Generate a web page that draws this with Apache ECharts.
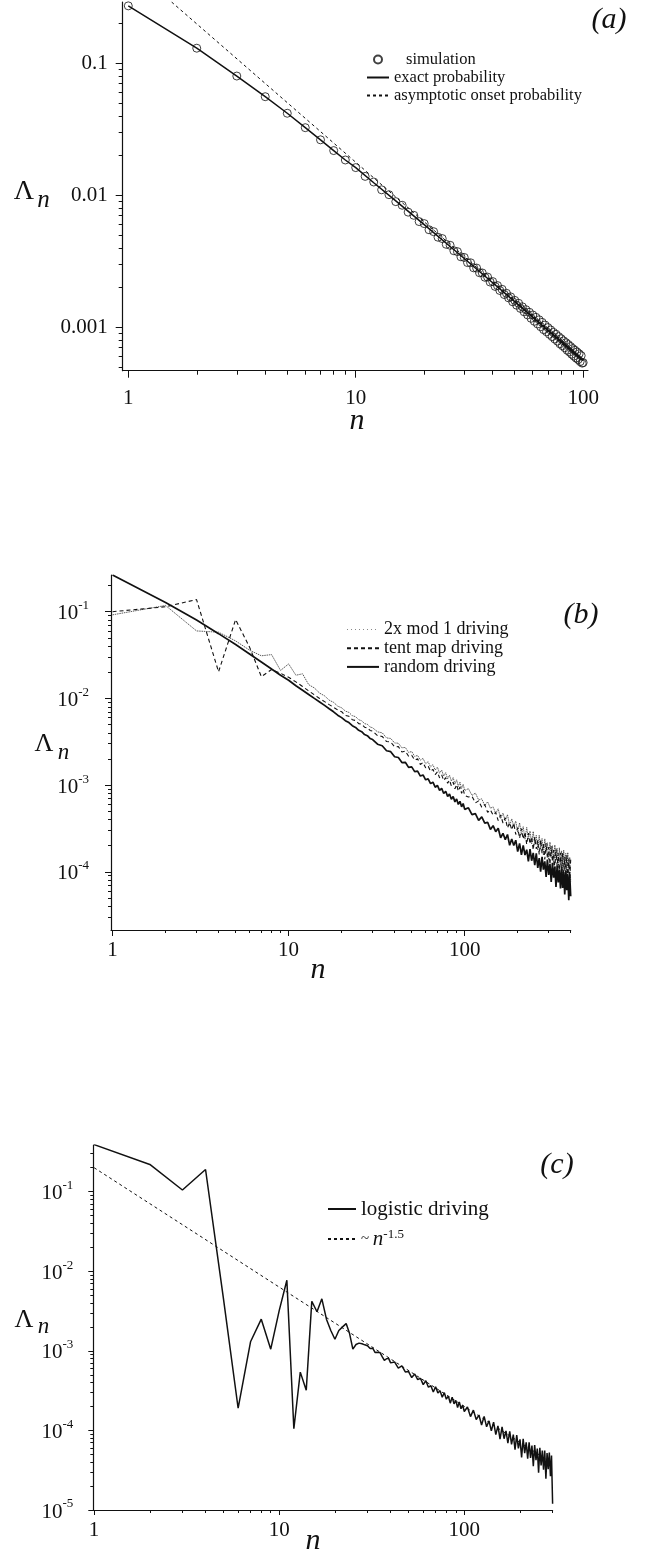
<!DOCTYPE html>
<html>
<head>
<meta charset="utf-8">
<script src="https://cdn.jsdelivr.net/npm/echarts@6/dist/echarts.min.js"></script>
<style>
  html, body { margin: 0; padding: 0; background: #fff; }
  #chart { width: 645px; height: 1554px; }
</style>
</head>
<body>
<div id="chart"></div>
<script>
// ---- panel (a) ----
const aSimValues = [
  0.272, 0.130, 0.080, 0.0558, 0.0418, 0.0325, 0.0263, 0.0218, 0.0185, 0.0162,
  0.0139, 0.0126, 0.0110, 0.0101, 0.00895, 0.00840, 0.00745, 0.00705, 0.00632, 0.00610,
  0.00548, 0.00530, 0.00481, 0.00470, 0.00425, 0.00418, 0.00380, 0.00374, 0.00342, 0.00338,
  0.00309, 0.00308, 0.00282, 0.00281, 0.00259, 0.00258, 0.00239, 0.00240, 0.00220, 0.00222,
  0.00204, 0.00207, 0.00190, 0.00194, 0.00177, 0.00181, 0.00167, 0.00170, 0.00156, 0.00160,
  0.00147, 0.00152, 0.00139, 0.00143, 0.00131, 0.00136, 0.00124, 0.00130, 0.00117, 0.00124,
  0.00111, 0.00119, 0.00106, 0.00114, 0.00101, 0.00109, 0.000960, 0.00104, 0.000925, 0.000995,
  0.000885, 0.000955, 0.000850, 0.000915, 0.000815, 0.000885, 0.000785, 0.000850, 0.000750, 0.000820,
  0.000725, 0.000790, 0.000700, 0.000765, 0.000670, 0.000740, 0.000650, 0.000715, 0.000625, 0.000690,
  0.000605, 0.000670, 0.000585, 0.000650, 0.000570, 0.000630, 0.000550, 0.000610, 0.000535, 0.000540
]
const aExactN = [1, 2, 3, 4, 5, 6, 7, 8, 9, 10, 12, 15, 20, 25, 30, 40, 50, 60, 70, 80, 90, 100]
const aExactValues = [0.272, 0.130, 0.080, 0.0558, 0.0418, 0.0325, 0.0263, 0.0218, 0.0185, 0.0162,
  0.01244, 0.00906, 0.00599, 0.00433, 0.00332, 0.002174, 0.001563, 0.001193, 0.000947, 0.000778, 0.000654, 0.000558]
const aAsymN = [1.55, 100]
const aAsymValues = [0.291, 0.000564]
const aXMajor = [1, 10, 100]
const aXMinor = [2, 3, 4, 5, 6, 7, 8, 9, 20, 30, 40, 50, 60, 70, 80, 90]
const aYMajor = [0.001, 0.01, 0.1]
const aYMinor = [0.0005, 0.0006, 0.0007, 0.0008, 0.0009, 0.002, 0.003, 0.004, 0.005, 0.006, 0.007, 0.008, 0.009,
  0.02, 0.03, 0.04, 0.05, 0.06, 0.07, 0.08, 0.09, 0.2]

// ---- panel (b) ----
const bN = [
  1, 2, 3, 4, 5, 6, 7, 8, 9, 10, 11, 12, 13, 14, 15, 16, 17, 18, 19, 20,
  21, 22, 23, 24, 25, 26, 27, 28, 29, 30,
  32, 34, 36, 38, 40, 42, 44, 46, 48, 50, 52, 54, 56, 58, 60, 62, 64, 66, 68, 70,
  72, 74, 76, 78, 80, 82, 84, 86, 88, 90, 92, 94, 96, 98, 100,
  105, 110, 115, 120, 125, 130, 135, 140, 145, 150, 155, 160, 165, 170, 175, 180, 185, 190, 195, 200,
  205, 210, 215, 220, 225, 230, 235, 240, 245, 250, 255, 260, 265, 270, 275, 280, 285, 290, 295, 300,
  305, 310, 315, 320, 325, 330, 335, 340, 345, 350, 355, 360, 365, 370, 375, 380, 385, 390, 395, 400
]
const bDyadic = [
  0.092, 0.118, 0.060, 0.058, 0.046, 0.036, 0.031, 0.032, 0.021, 0.025,
  0.0185, 0.0192, 0.0144, 0.0132, 0.0115, 0.0107, 0.00954, 0.00900, 0.00813, 0.00779,
  0.00714, 0.00689, 0.00631, 0.00616, 0.00567, 0.00552, 0.00511, 0.00503, 0.00468, 0.00458,
  0.00411, 0.00401, 0.00350, 0.00345, 0.00306, 0.00304, 0.00269, 0.00272, 0.00238, 0.00244,
  0.00214, 0.00220, 0.00194, 0.00203, 0.00176, 0.00186, 0.00162, 0.00172, 0.00149, 0.00161,
  0.00137, 0.00149, 0.00127, 0.00139, 0.00118, 0.00130, 0.00111, 0.00122, 0.00103, 0.00115,
  0.000965, 0.00108, 0.000913, 0.00102, 0.000866,
  9.10e-4, 7.60e-4, 8.09e-4, 6.74e-4, 6.94e-4, 5.80e-4, 6.42e-4, 5.40e-4, 5.61e-4, 4.72e-4,
  5.32e-4, 4.10e-4, 4.75e-4, 3.86e-4, 4.56e-4, 3.40e-4, 4.08e-4, 3.35e-4, 3.84e-4, 2.86e-4,
  3.68e-4, 2.69e-4, 3.31e-4, 2.37e-4, 3.25e-4, 2.40e-4, 2.95e-4, 2.10e-4, 2.92e-4, 2.07e-4,
  2.63e-4, 1.77e-4, 2.64e-4, 1.81e-4, 2.42e-4, 1.55e-4, 2.40e-4, 1.66e-4, 2.16e-4, 1.37e-4,
  2.20e-4, 1.46e-4, 2.00e-4, 1.19e-4, 2.04e-4, 1.34e-4, 1.86e-4, 1.07e-4, 1.89e-4, 1.20e-4,
  1.74e-4, 9.56e-5, 1.78e-4, 1.07e-4, 1.63e-4, 8.56e-5, 1.67e-4, 9.69e-5, 1.47e-4, 7.70e-5
]
const bTent = [
  0.100, 0.114, 0.138, 0.0203, 0.081, 0.039, 0.0178, 0.0215, 0.0195, 0.0175,
  0.0155, 0.0137, 0.0122, 0.0110, 0.00997, 0.00917, 0.00848, 0.00789, 0.00735, 0.00702,
  0.00636, 0.00622, 0.00568, 0.00556, 0.00512, 0.00503, 0.00465, 0.00458, 0.00427, 0.00420,
  0.00372, 0.00364, 0.00318, 0.00314, 0.00276, 0.00278, 0.00241, 0.00247, 0.00215, 0.00221,
  0.00194, 0.00201, 0.00173, 0.00182, 0.00158, 0.00166, 0.00144, 0.00152, 0.00132, 0.00142,
  0.00121, 0.00131, 0.00113, 0.00122, 0.00105, 0.00114, 0.000980, 0.00108, 0.000905, 0.00101,
  0.000854, 0.000951, 0.000802, 0.000895, 0.000760,
  7.28e-4, 7.42e-4, 6.22e-4, 6.58e-4, 5.54e-4, 5.95e-4, 4.84e-4, 5.17e-4, 4.49e-4, 4.84e-4,
  3.89e-4, 4.52e-4, 3.65e-4, 4.20e-4, 3.20e-4, 3.69e-4, 3.05e-4, 3.63e-4, 2.69e-4, 3.23e-4,
  2.44e-4, 3.14e-4, 2.38e-4, 2.86e-4, 2.07e-4, 2.79e-4, 2.10e-4, 2.53e-4, 1.79e-4, 2.52e-4,
  1.83e-4, 2.30e-4, 1.58e-4, 2.33e-4, 1.63e-4, 2.10e-4, 1.39e-4, 2.14e-4, 1.43e-4, 1.93e-4,
  1.21e-4, 1.98e-4, 1.31e-4, 1.78e-4, 1.07e-4, 1.84e-4, 1.16e-4, 1.65e-4, 9.54e-5, 1.66e-4,
  1.02e-4, 1.64e-4, 8.53e-5, 1.49e-4, 9.59e-5, 1.55e-4, 7.65e-5, 1.41e-4, 8.44e-5, 1.38e-4
]
const bRandom = [
  0.265, 0.128, 0.080, 0.0558, 0.0418, 0.0325, 0.0263, 0.0218, 0.0185, 0.0162,
  0.0140, 0.0124, 0.0111, 0.0100, 0.0091, 0.0083, 0.0076, 0.0070, 0.0064, 0.0060,
  0.00553, 0.00526, 0.00485, 0.00463, 0.00428, 0.00413, 0.00383, 0.00371, 0.00345, 0.00335,
  0.00296, 0.00284, 0.00249, 0.00243, 0.00212, 0.00208, 0.00182, 0.00183, 0.00160, 0.00162,
  0.00143, 0.00145, 0.00127, 0.00131, 0.00115, 0.00118, 0.00104, 0.00108, 0.000945, 0.000990,
  0.000868, 0.000915, 0.000800, 0.000848, 0.000740, 0.000790, 0.000686, 0.000738, 0.000640, 0.000692,
  0.000598, 0.000650, 0.000562, 0.000612, 0.000525,
  5.47e-4, 4.57e-4, 4.68e-4, 3.92e-4, 4.29e-4, 3.64e-4, 3.72e-4, 3.08e-4, 3.40e-4, 2.90e-4,
  3.17e-4, 2.47e-4, 2.78e-4, 2.35e-4, 2.69e-4, 2.02e-4, 2.39e-4, 2.01e-4, 2.31e-4, 1.71e-4,
  2.12e-4, 1.57e-4, 2.02e-4, 1.56e-4, 1.80e-4, 1.32e-4, 1.82e-4, 1.34e-4, 1.65e-4, 1.19e-4,
  1.63e-4, 1.11e-4, 1.44e-4, 1.00e-4, 1.49e-4, 1.06e-4, 1.32e-4, 8.74e-5, 1.38e-4, 9.20e-5,
  1.23e-4, 7.65e-5, 1.27e-4, 8.54e-5, 1.14e-4, 6.67e-5, 1.18e-4, 7.52e-5, 1.06e-4, 6.44e-5,
  1.10e-4, 6.50e-5, 9.95e-5, 5.46e-5, 1.03e-4, 6.14e-5, 9.41e-5, 4.69e-5, 9.19e-5, 5.21e-5
]
const bXMajor = [1, 10, 100]
const bXMinor = [2, 3, 4, 5, 6, 7, 8, 9, 20, 30, 40, 50, 60, 70, 80, 90, 200, 300, 400]
const bYMajor = [0.0001, 0.001, 0.01, 0.1]
const bYMinor = [3e-5, 4e-5, 5e-5, 6e-5, 7e-5, 8e-5, 9e-5,
  2e-4, 3e-4, 4e-4, 5e-4, 6e-4, 7e-4, 8e-4, 9e-4,
  0.002, 0.003, 0.004, 0.005, 0.006, 0.007, 0.008, 0.009,
  0.02, 0.03, 0.04, 0.05, 0.06, 0.07, 0.08, 0.09, 0.2]

// ---- panel (c) ----
const cN = [
  1, 2, 3, 4, 5, 6, 7, 8, 9, 10, 11, 12, 13, 14, 15, 16, 17, 18, 19, 20,
  21, 22, 23, 24, 25, 26, 27, 28, 29, 30, 31, 32, 33, 34, 35, 36, 37, 38, 39, 40,
  42, 44, 46, 48, 50, 52, 54, 56, 58, 60, 62, 64, 66, 68, 70, 72, 74, 76, 78, 80,
  82, 84, 86, 88, 90, 92, 94, 96, 98, 100,
  104, 108, 112, 116, 120, 124, 128, 132, 136, 140, 144, 148, 152, 156, 160, 164, 168, 172, 176, 180,
  184, 188, 192, 196, 200, 204, 208, 212, 216, 220, 224, 228, 232, 236, 240, 244, 248, 252, 256, 260,
  264, 268, 272, 276, 280, 284, 288, 292, 296, 300
]
const cLogistic = [
  0.39, 0.22, 0.105, 0.19, 0.0045, 0.00019, 0.0013, 0.0025, 0.00105, 0.0032,
  0.0077, 0.000105, 0.00054, 0.00032, 0.0042, 0.0031, 0.0045, 0.0025, 0.0018, 0.0014,
  0.0018, 0.0020, 0.0022, 0.00165, 0.00105, 0.0012, 1.25e-3, 1.23e-3, 1.19e-3, 1.16e-3,
  1.07e-3, 1.08e-3, 9.51e-4, 9.58e-4, 9.54e-4, 8.45e-4, 7.59e-4, 7.95e-4, 8.04e-4, 7.06e-4,
  7.25e-4, 6.06e-4, 6.47e-4, 5.43e-4, 5.49e-4, 4.62e-4, 5.12e-4, 4.36e-4, 4.51e-4, 3.76e-4,
  4.21e-4, 3.49e-4, 3.64e-4, 3.04e-4, 3.54e-4, 2.96e-4, 3.16e-4, 2.61e-4, 2.98e-4, 2.47e-4,
  2.70e-4, 2.20e-4, 2.62e-4, 2.16e-4, 2.38e-4, 1.94e-4, 2.28e-4, 1.87e-4, 2.08e-4, 1.73e-4,
  1.97e-4, 1.49e-4, 1.80e-4, 1.37e-4, 1.56e-4, 1.17e-4, 1.50e-4, 1.11e-4, 1.32e-4, 9.87e-5,
  1.27e-4, 8.86e-5, 1.14e-4, 7.80e-5, 1.11e-4, 7.87e-5, 9.85e-5, 6.90e-5, 9.76e-5, 6.69e-5,
  8.84e-5, 5.75e-5, 8.71e-5, 5.95e-5, 7.74e-5, 4.56e-5, 7.85e-5, 5.17e-5, 7.07e-5, 4.42e-5,
  7.08e-5, 4.52e-5, 6.46e-5, 3.56e-5, 6.54e-5, 4.23e-5, 5.93e-5, 2.95e-5, 6.03e-5, 3.63e-5,
  5.58e-5, 3.20e-5, 5.60e-5, 2.48e-5, 5.18e-5, 3.26e-5, 5.27e-5, 2.66e-5, 4.84e-5, 1.2e-5
]
const cPowN = [1, 300]
const cPowValues = [0.2, 3.85e-5]
const cXMajor = [1, 10, 100]
const cXMinor = [2, 3, 4, 5, 6, 7, 8, 9, 20, 30, 40, 50, 60, 70, 80, 90, 200, 300]
const cYMajor = [1e-5, 1e-4, 0.001, 0.01, 0.1]
const cYMinor = [2e-5, 3e-5, 4e-5, 5e-5, 6e-5, 7e-5, 8e-5, 9e-5,
  2e-4, 3e-4, 4e-4, 5e-4, 6e-4, 7e-4, 8e-4, 9e-4,
  0.002, 0.003, 0.004, 0.005, 0.006, 0.007, 0.008, 0.009,
  0.02, 0.03, 0.04, 0.05, 0.06, 0.07, 0.08, 0.09, 0.2, 0.3]

const FONT = "'Liberation Serif', 'Times New Roman', serif"
const INK = '#111'

const pairs = (ns, vs) => vs.map((v, i) => [ns[i], v])
const decimalLabel = v => v.toFixed(Math.max(0, -Math.round(Math.log10(v))))
const powerLabel = v => '{b|10}{s|' + Math.round(Math.log10(v)) + '}'
const powerRich = {
  b: { fontSize: 21, fontFamily: FONT, color: INK, lineHeight: 25, verticalAlign: 'bottom' },
  s: { fontSize: 13, fontFamily: FONT, color: INK, verticalAlign: 'top' }
}
// legend entries drawn as a bare line sample (no marker in the middle)
const lineEntry = (name, extra) => Object.assign({ name, itemStyle: { opacity: 0 } }, extra)

// main axis (major ticks + labels) and an overlapping one that only carries the minor ticks
function logAxes(dim, gridIndex, min, max, majors, minors, label, majorLen, minorLen) {
  const position = dim === 'x' ? 'bottom' : 'left'
  return [{
    type: 'log', gridIndex, min, max, position,
    axisLine: { show: true, onZero: false, lineStyle: { color: INK, width: 1.2 } },
    axisTick: { show: true, customValues: majors, length: majorLen, lineStyle: { color: INK, width: 1 } },
    axisLabel: Object.assign({ customValues: majors, color: INK, fontFamily: FONT, fontSize: 21 }, label),
    splitLine: { show: false },
    minorTick: { show: false }
  }, {
    type: 'log', gridIndex, min, max, position,
    axisLine: { show: false },
    axisTick: { show: true, customValues: minors, length: minorLen, lineStyle: { color: INK, width: 1 } },
    axisLabel: { show: false },
    splitLine: { show: false }
  }]
}

const text = (x, y, str, font) => ({
  type: 'text', x, y, silent: true,
  style: { text: str, font, fill: INK, align: 'center', verticalAlign: 'middle', textAlign: 'center', textVerticalAlign: 'middle' }
})

const chart = echarts.init(document.getElementById('chart'))

const option = {
  animation: false,
  backgroundColor: '#fff',
  grid: [
    { left: 122.7, top: 2, width: 465.3, height: 368.7, outerBoundsMode: 'none' },
    { left: 111, top: 575, width: 459.7, height: 355, outerBoundsMode: 'none' },
    { left: 93.3, top: 1145, width: 459.3, height: 365, outerBoundsMode: 'none' }
  ],
  xAxis: [
    ...logAxes('x', 0, 0.945, 105, aXMajor, aXMinor, { formatter: decimalLabel, margin: 17 }, 7, 4),
    ...logAxes('x', 1, 0.98, 400, bXMajor, bXMinor, { formatter: decimalLabel, margin: 10 }, 6, 3),
    ...logAxes('x', 2, 0.99, 300, cXMajor, cXMinor, { formatter: decimalLabel, margin: 10 }, 5, 3)
  ],
  yAxis: [
    ...logAxes('y', 0, 4.69e-4, 0.291, aYMajor, aYMinor, { formatter: decimalLabel, margin: 15 }, 7, 4),
    ...logAxes('y', 1, 2.13e-5, 0.265, bYMajor, bYMinor, { formatter: powerLabel, rich: powerRich, margin: 22 }, 6, 3),
    ...logAxes('y', 2, 1e-5, 0.386, cYMajor, cYMinor, { formatter: powerLabel, rich: powerRich, margin: 20 }, 5, 3)
  ],
  legend: [{
    left: 361, top: 46, orient: 'vertical', itemWidth: 22, itemHeight: 8, itemGap: 1,
    textStyle: { fontFamily: FONT, fontSize: 16.5, color: INK },
    data: [
      { name: 'simulation', textStyle: { padding: [0, 0, 0, 12] } },
      lineEntry('exact probability'),
      lineEntry('asymptotic onset probability')
    ]
  }, {
    left: 341, top: 615.5, orient: 'vertical', itemWidth: 32, itemHeight: 8, itemGap: 0.7,
    textStyle: { fontFamily: FONT, fontSize: 18, color: INK },
    data: [
      lineEntry('2x mod 1 driving', { lineStyle: { color: '#888', width: 1, type: [1, 3] } }),
      lineEntry('tent map driving'),
      lineEntry('random driving')
    ]
  }, {
    left: 322, top: 1193.5, orient: 'vertical', itemWidth: 28, itemHeight: 8, itemGap: 9,
    textStyle: {
      fontFamily: FONT, fontSize: 21, color: INK,
      rich: {
        t: { fontFamily: FONT, fontSize: 15, color: INK },
        i: { fontFamily: FONT, fontSize: 21, fontStyle: 'italic', color: INK },
        s: { fontFamily: FONT, fontSize: 13, color: INK, verticalAlign: 'top' }
      }
    },
    formatter: name => name === 'logistic driving' ? name : '{t|~ }{i|n}{s|-1.5}',
    data: [lineEntry('logistic driving'), lineEntry('~ n-1.5')]
  }],
  graphic: [
    text(609, 20, '(a)', 'italic 30px ' + FONT),
    text(581, 615, '(b)', 'italic 30px ' + FONT),
    text(557, 1165, '(c)', 'italic 30px ' + FONT),
    text(24, 191.5, 'Λ', '28px ' + FONT),
    text(43.5, 200, 'n', 'italic 25px ' + FONT),
    text(44, 744.5, 'Λ', '26px ' + FONT),
    text(63.5, 752.5, 'n', 'italic 23px ' + FONT),
    text(24, 1320, 'Λ', '26px ' + FONT),
    text(43.5, 1327, 'n', 'italic 23px ' + FONT),
    text(357, 421, 'n', 'italic 30px ' + FONT),
    text(318, 970, 'n', 'italic 30px ' + FONT),
    text(313, 1541, 'n', 'italic 30px ' + FONT)
  ],
  series: [
    {
      name: 'exact probability', type: 'line', xAxisIndex: 0, yAxisIndex: 0,
      symbol: 'none', itemStyle: { color: INK }, lineStyle: { color: INK, width: 1.5 },
      data: pairs(aExactN, aExactValues)
    },
    {
      name: 'asymptotic onset probability', type: 'line', xAxisIndex: 0, yAxisIndex: 0,
      symbol: 'none', itemStyle: { color: INK }, lineStyle: { color: INK, width: 1, type: [3, 3] },
      data: pairs(aAsymN, aAsymValues)
    },
    {
      name: 'simulation', type: 'scatter', xAxisIndex: 0, yAxisIndex: 0, z: 5,
      symbol: 'circle', symbolSize: 8,
      itemStyle: { color: 'rgba(0,0,0,0)', borderColor: INK, borderWidth: 1 },
      data: aSimValues.map((v, i) => [i + 1, v])
    },
    {
      name: '2x mod 1 driving', type: 'line', xAxisIndex: 2, yAxisIndex: 2,
      symbol: 'none', itemStyle: { color: INK }, lineStyle: { color: '#333', width: 0.8, type: [1.5, 0.8] },
      data: pairs(bN, bDyadic)
    },
    {
      name: 'tent map driving', type: 'line', xAxisIndex: 2, yAxisIndex: 2,
      symbol: 'none', itemStyle: { color: INK }, lineStyle: { color: INK, width: 1.1, type: [4, 3] },
      data: pairs(bN, bTent)
    },
    {
      name: 'random driving', type: 'line', xAxisIndex: 2, yAxisIndex: 2,
      symbol: 'none', itemStyle: { color: INK }, lineStyle: { color: INK, width: 1.7 },
      data: pairs(bN, bRandom)
    },
    {
      name: 'logistic driving', type: 'line', xAxisIndex: 4, yAxisIndex: 4,
      symbol: 'none', itemStyle: { color: INK }, lineStyle: { color: INK, width: 1.5 },
      data: pairs(cN, cLogistic)
    },
    {
      name: '~ n-1.5', type: 'line', xAxisIndex: 4, yAxisIndex: 4,
      symbol: 'none', itemStyle: { color: INK }, lineStyle: { color: INK, width: 1, type: [3, 3] },
      data: pairs(cPowN, cPowValues)
    }
  ]
}

chart.setOption(option)
</script>
</body>
</html>
